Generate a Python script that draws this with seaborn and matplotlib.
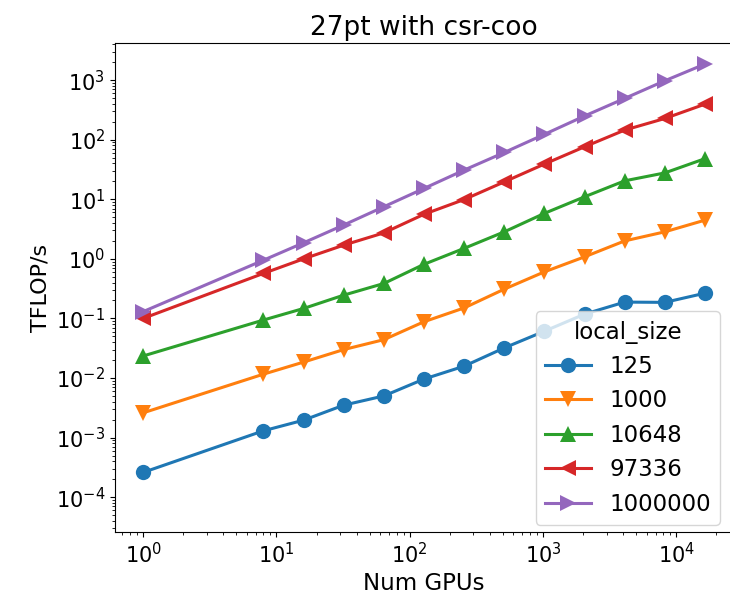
import matplotlib
matplotlib.use("Agg")
import matplotlib.pyplot as plt
import pandas as pd
import seaborn as sns

num_gpus = [1, 8, 16, 32, 64, 128, 256, 512, 1024, 2048, 4096, 8192, 16384]
local_sizes = ["125", "1000", "10648", "97336", "1000000"]

tflops_125 = [2.6e-4, 1.3e-3, 1.96e-3, 3.5e-3, 5.0e-3, 9.6e-3, 1.58e-2, 3.2e-2, 6.1e-2, 0.118, 0.188, 0.186, 0.265]
tflops_1000 = [2.6e-3, 0.0116, 0.0185, 0.030, 0.044, 0.088, 0.15, 0.31, 0.605, 1.08, 2.0, 2.84, 4.46]
tflops_10648 = [0.0234, 0.094, 0.147, 0.246, 0.386, 0.81, 1.5, 2.84, 5.8, 11.0, 20.4, 27.7, 48.0]
tflops_97336 = [0.10, 0.57, 1.0, 1.7, 2.73, 5.6, 9.9, 19.6, 39.0, 76.0, 145.0, 227.0, 395.0]
tflops_1000000 = [0.13, 0.95, 1.86, 3.7, 7.5, 15.2, 30.9, 61.0, 123.0, 250.0, 493.0, 975.0, 1860.0]

series = [tflops_125, tflops_1000, tflops_10648, tflops_97336, tflops_1000000]

rows = []
for size, values in zip(local_sizes, series):
    for n, v in zip(num_gpus, values):
        rows.append({"Num GPUs": n, "TFLOP/s": v, "local_size": size})
df = pd.DataFrame(rows)

plt.rcParams["font.family"] = ["DejaVu Sans"]

fig, ax = plt.subplots(figsize=(7.3, 6.02), dpi=100)
# the reference is cropped on the right: the axes run just past the edge
fig.subplots_adjust(left=115 / 730, right=733 / 730, bottom=1 - 532 / 602, top=1 - 43 / 602)

sns.lineplot(
    data=df,
    x="Num GPUs",
    y="TFLOP/s",
    hue="local_size",
    style="local_size",
    hue_order=local_sizes,
    style_order=local_sizes,
    markers=["o", "v", "^", "<", ">"],
    dashes=False,
    markersize=11,
    markeredgewidth=0,
    linewidth=2.2,
    ax=ax,
)
ax.set_xscale("log")
ax.set_yscale("log")
ax.set_ylim(2.6e-5, 4.2e3)
ax.set_title("27pt with csr-coo", fontsize=19)
ax.set_xlabel("Num GPUs", fontsize=16.5)
ax.set_ylabel("TFLOP/s", fontsize=16)
ax.tick_params(labelsize=15)
ax.legend(
    title="local_size",
    loc="lower right",
    bbox_to_anchor=(720 / 730, 1 - 525 / 602),
    bbox_transform=fig.transFigure,
    borderaxespad=0,
    fontsize=16.5,
    title_fontsize=16.5,
)

fig.savefig("out.png", dpi=100)
